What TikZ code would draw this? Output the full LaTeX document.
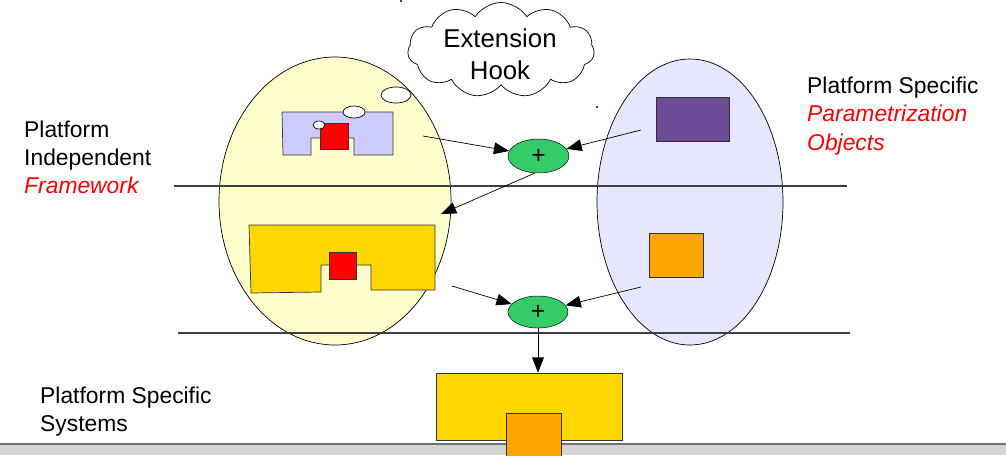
\documentclass[tikz,border=0pt]{standalone}
\usepackage{fontspec}
\setmainfont{Liberation Sans}
\usetikzlibrary{shapes.geometric,shapes.symbols,arrows.meta}
\definecolor{frameyellow}{RGB}{255,255,204}
\definecolor{paramblue}{RGB}{230,230,255}
\definecolor{lavender}{RGB}{204,204,255}
\definecolor{gold}{RGB}{255,215,0}
\definecolor{orangebox}{RGB}{255,165,0}
\definecolor{plusgreen}{RGB}{51,204,102}
\definecolor{purplebox}{RGB}{107,74,150}
\definecolor{bandgray}{RGB}{212,212,212}
\definecolor{banddark}{RGB}{112,112,112}
\definecolor{linegray}{RGB}{64,64,64}
\tikzset{
  label/.style={font=\fontsize{19.5}{24}\selectfont, align=left, anchor=west, inner sep=0pt},
  combiner/.style={ellipse, draw, fill=plusgreen, inner sep=0pt, font=\fontsize{21}{21}\selectfont},
  piece/.style={draw=black!80, line width=0.6pt},
  flow/.style={-{Triangle[length=13pt,width=10pt]}, line width=0.6pt},
  level/.style={draw=linegray, line width=0.9pt},
  blob/.style={draw, line width=0.6pt},
}
\begin{document}
\begin{tikzpicture}[x=0.3mm, y=-0.3mm]
\useasboundingbox (0,0) rectangle (1006,455);

% framework and parametrization domains
\draw[blob, fill=frameyellow] (335,201) ellipse [x radius=116, y radius=144];
\draw[blob, fill=paramblue] (690,202) ellipse [x radius=93, y radius=143];

% level separators
\draw[level] (174,186) -- (847,186);
\draw[level] (178,333) -- (850,333);

% bottom band
\fill[bandgray] (0,444) rectangle (1006,455);
\draw[banddark, line width=1.8pt] (0,444) -- (1006,444);

% extension hook cloud with thought bubbles
\node[cloud, cloud puffs=11, cloud puff arc=115, aspect=1.95, draw, fill=white,
      line width=0.6pt, minimum width=56mm, minimum height=28.5mm, inner sep=0pt] (hook) at (501,50) {};
\node[align=center, inner sep=0pt, font=\fontsize{22}{27}\selectfont] (hooktext) at (500,54) {Extension\\Hook};
\draw[blob, fill=white] (396,95) ellipse [x radius=15, y radius=8];

% framework piece with hook
\draw[piece, fill=lavender] (282,112) -- (393,112) -- (393,155) -- (354,155) -- (354,138)
  -- (311,138) -- (311,155) -- (283,155) -- cycle;
\draw[piece, fill=red] (320,123) rectangle (348,149);
\draw[blob, fill=white] (354,112) ellipse [x radius=11, y radius=6];
\draw[blob, fill=white] (319,125) ellipse [x radius=6, y radius=4];

% framework piece with filled hook
\draw[piece, fill=gold] (249,225) -- (435,225) -- (435,290) -- (371,290) -- (371,265)
  -- (321,265) -- (321,292) -- (251,293) -- cycle;
\draw[piece, fill=red] (329,252) rectangle (356,279);

% parametrization objects
\node[piece, fill=purplebox, minimum width=21.9mm, minimum height=13.2mm, inner sep=0pt] (param) at (692.5,119) {};
\node[piece, fill=orangebox, minimum width=16.2mm, minimum height=13.2mm, inner sep=0pt] (orobj) at (676,255) {};

% combination points
\node[combiner, minimum width=18.3mm, minimum height=10.2mm] (g1) at (538.5,156) {+};
\node[combiner, minimum width=18mm, minimum height=9.6mm] (g2) at (538,312) {+};

% resulting system
\node[piece, fill=gold, minimum width=55.8mm, minimum height=20.1mm, inner sep=0pt] (sys) at (529,406.5) {};
\node[piece, fill=orangebox, minimum width=16.5mm, minimum height=13.5mm, inner sep=0pt, anchor=north west] (sysobj) at (506,413) {};

% connector ends
\coordinate (a1) at (423,136);
\coordinate (b1) at (641,130);
\coordinate (c1) at (441,214);
\coordinate (a2) at (452,286);
\coordinate (b2) at (641,287);
\coordinate (g1s) at ([xshift=-1.2mm]g1.south);

\draw[flow] (a1) -- (g1);
\draw[flow] (b1) -- (g1);
\draw[flow] (g1s) -- (c1);
\draw[flow] (a2) -- (g2);
\draw[flow] (b2) -- (g2);
\draw[flow] (g2.south) -- (g2.south |- sys.north);

% stray marks
\fill (597,107) circle [radius=1.2];
\fill (401,1) circle [radius=1.2];

% labels
\node[label] (pil) at (24,157) {Platform\\Independent\\\textcolor{red}{\itshape Framework}};
\node[label] (psl) at (807,116) {Platform Specific\\\textcolor{red}{\itshape Parametrization}\\\textcolor{red}{\itshape Objects}};
\node[label] (pss) at (40,412) {Platform Specific\\Systems};
\end{tikzpicture}
\end{document}
